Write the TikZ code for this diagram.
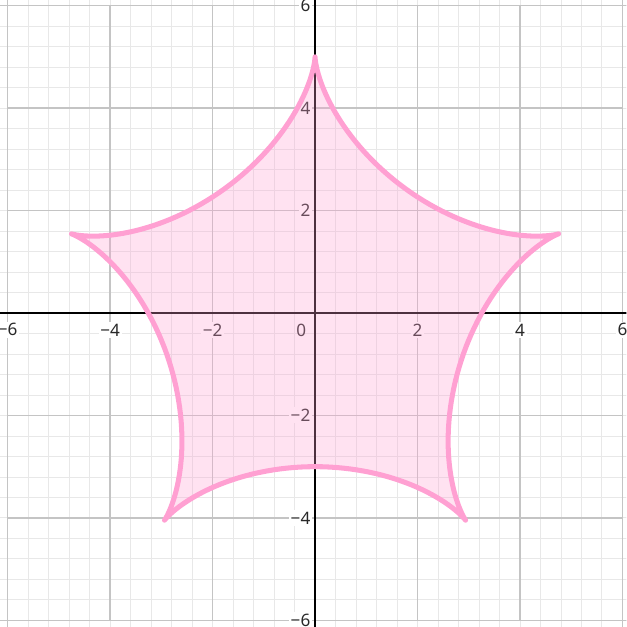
\documentclass[tikz,border=0pt]{standalone}
\usepackage{fontspec}
\setmainfont{Noto Sans}
\usepackage{tikz}
\usetikzlibrary{positioning,calc}
\definecolor{curvepink}{RGB}{255,160,210}
\definecolor{labelgray}{RGB}{40,40,40}

\begin{document}
\begin{tikzpicture}[
    minorgrid/.style={draw={rgb,255:red,232;green,232;blue,232}, line width=0.45pt},
    majorgrid/.style={draw={rgb,255:red,196;green,196;blue,196}, line width=0.8pt},
    axisline/.style={draw=black, line width=1.1pt},
    ticklabel/.style={font=\fontsize{9.5}{11}\selectfont, text=labelgray, fill=white, inner sep=1pt}]

    \useasboundingbox (-6.15,-6.13) rectangle (6.08,6.11);
    \clip (-6.15,-6.13) rectangle (6.08,6.11);

    % grid
    \draw[minorgrid] (-6.4,-6.4) grid[step=0.4] (6.4,6.4);
    \draw[majorgrid] (-6,-6) grid[step=2] (6,6);
    \draw[majorgrid] (-8,-6) -- (8,-6) (-8,6) -- (8,6) (-6,-8) -- (-6,8) (6,-8) -- (6,8);

    % axes
    \draw[axisline] (-6.2,0) -- (6.2,0);
    \draw[axisline] (0,-6.2) -- (0,6.2);

    % tick labels
    \foreach \v/\t in {-6/−6,-4/−4,-2/−2,2/2,4/4,6/6} {
        \node[ticklabel] (xl\v) at (\v,-0.33) {\t};
        \node[ticklabel, anchor=east] (yl\v) at (-0.05,\v) {\t};
    }
    \node[ticklabel, fill=none] (orig) at (-0.27,-0.33) {0};

    % five-cusped hypocycloid
    \fill[curvepink, opacity=0.3] plot[domain=0:360, samples=361, variable=\t]
        ({-(4*sin(\t)-sin(4*\t))}, {4*cos(\t)+cos(4*\t)}) -- cycle;
    \draw[curvepink, line width=2.8pt, line join=round, line cap=round]
        plot[domain=0:360, samples=361, variable=\t]
        ({-(4*sin(\t)-sin(4*\t))}, {4*cos(\t)+cos(4*\t)}) -- cycle;
\end{tikzpicture}
\end{document}
